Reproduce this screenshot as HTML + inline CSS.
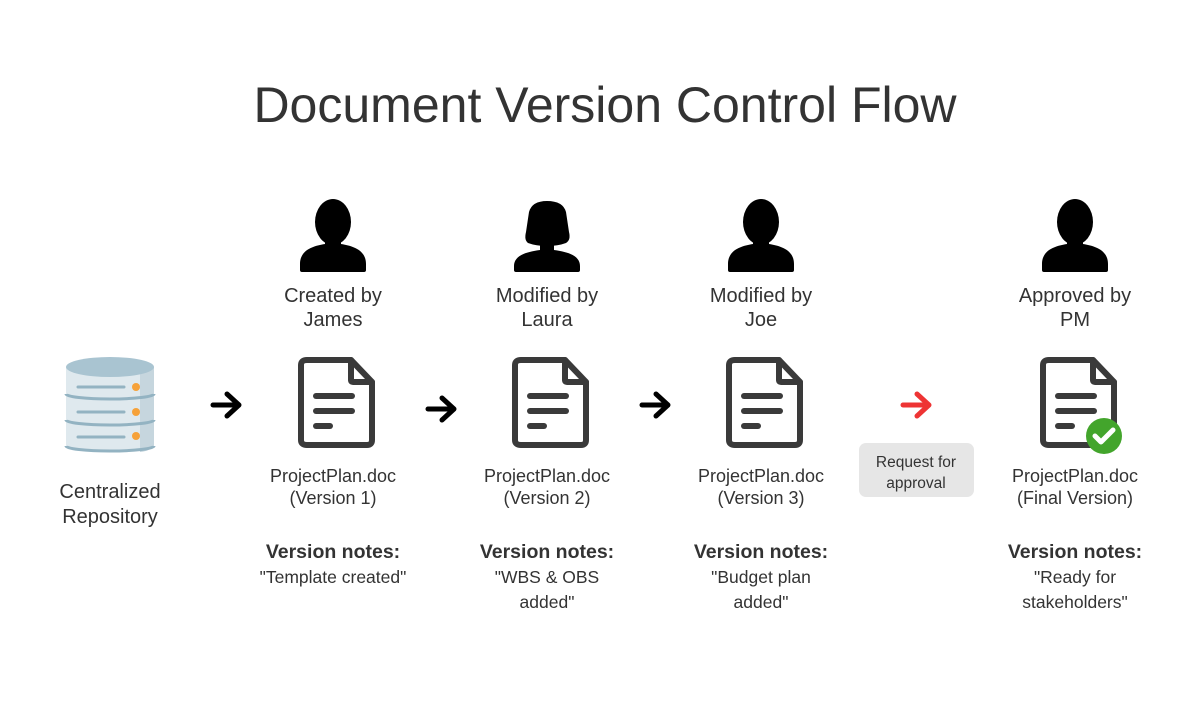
<!DOCTYPE html>
<html><head><meta charset="utf-8"><style>
html,body{margin:0;padding:0;background:#fff}
svg{display:block}
text{font-family:"Liberation Sans",sans-serif;fill:#333}
</style></head><body>
<svg width="1200" height="714" viewBox="0 0 1200 714" xmlns="http://www.w3.org/2000/svg">
<defs>
<g id="male">
<ellipse cx="0" cy="-50" rx="18" ry="23" fill="#000"/>
<path d="M-8,-32 L-8,-28 C-20,-26 -33,-22 -33,-8 L-33,-2 Q-33,0 -31,0 L31,0 Q33,0 33,-2 L33,-8 C33,-22 20,-26 8,-28 L8,-32 Z" fill="#000"/>
</g>
<g id="doc" fill="none" stroke="#3a3a3a" stroke-width="6" stroke-linejoin="round" stroke-linecap="round">
<path d="M-26,0 L18,0 L39,22 L39,80 Q39,85 34,85 L-26,85 Q-32,85 -32,80 L-32,5 Q-32,0 -26,0 Z"/>
<path d="M18,0 L18,20 Q18,22 20,22 L39,22"/>
<line x1="-17" y1="36" x2="19" y2="36"/>
<line x1="-17" y1="51" x2="19" y2="51"/>
<line x1="-17" y1="66" x2="-3" y2="66"/>
</g>
<g id="arr" fill="none" stroke-width="5" stroke-linecap="round" stroke-linejoin="round">
<line x1="-13" y1="0" x2="12" y2="0"/>
<polyline points="1,-11 13,0 1,11"/>
</g>
</defs>

<text x="605" y="122" text-anchor="middle" font-size="50" fill="#222">Document Version Control Flow</text>

<!-- Repository -->
<g>
<path d="M66,367 L66,446 A44,6 0 0 0 154,446 L154,367 Z" fill="#dfe9ee"/>
<path d="M140,372 L154,367 L154,446 Q150,451 140,452 Z" fill="#c6d6de"/>
<ellipse cx="110" cy="367" rx="44" ry="10" fill="#a9c4d1"/>
<path d="M66,394 A44,5 0 0 0 154,394" fill="none" stroke="#93b3c2" stroke-width="3"/>
<path d="M66,420 A44,5 0 0 0 154,420" fill="none" stroke="#93b3c2" stroke-width="3"/>
<path d="M66,446 A44,5 0 0 0 154,446" fill="none" stroke="#93b3c2" stroke-width="3"/>
<g stroke="#93b3c2" stroke-width="3" stroke-linecap="round">
<line x1="78" y1="387" x2="124" y2="387"/>
<line x1="78" y1="412" x2="124" y2="412"/>
<line x1="78" y1="437" x2="124" y2="437"/>
</g>
<g fill="#f6a23a"><circle cx="136" cy="387" r="4"/><circle cx="136" cy="412" r="4"/><circle cx="136" cy="436" r="4"/></g>
</g>
<text x="110" y="498" text-anchor="middle" font-size="20">Centralized</text>
<text x="110" y="523" text-anchor="middle" font-size="20">Repository</text>

<!-- arrows -->
<use href="#arr" x="226" y="405" stroke="#000"/>
<use href="#arr" x="441" y="409" stroke="#000"/>
<use href="#arr" x="655" y="405" stroke="#000"/>
<use href="#arr" x="916" y="405" stroke="#ee3434"/>

<rect x="859" y="443" width="115" height="54" rx="7" fill="#e6e6e6"/>
<text x="916" y="467" text-anchor="middle" font-size="15.5">Request for</text>
<text x="916" y="488" text-anchor="middle" font-size="15.5">approval</text>

<!-- persons -->
<use href="#male" x="333" y="272"/>
<g fill="#000">
<path d="M528,243 Q524,240 526,232 L529,212 Q532,201 547,201 Q563,201 566,212 L569,232 Q571,240 566,243 Q558,246 547,246 Q536,246 528,243 Z"/>
<path d="M540,243 L540,250 C525,252 514,256 514,266 L514,270 Q514,272 516,272 L578,272 Q580,272 580,270 L580,266 C580,256 569,252 554,250 L554,243 Z"/>
</g>
<use href="#male" x="761" y="272"/>
<use href="#male" x="1075" y="272"/>

<g font-size="20" text-anchor="middle">
<text x="333" y="302">Created by</text><text x="333" y="326">James</text>
<text x="547" y="302">Modified by</text><text x="547" y="326">Laura</text>
<text x="761" y="302">Modified by</text><text x="761" y="326">Joe</text>
<text x="1075" y="302">Approved by</text><text x="1075" y="326">PM</text>
</g>

<use href="#doc" x="333" y="360"/>
<use href="#doc" x="547" y="360"/>
<use href="#doc" x="761" y="360"/>
<use href="#doc" x="1075" y="360"/>
<circle cx="1104" cy="436" r="18" fill="#43a52c"/>
<polyline points="1095,436 1101,442 1113,430" fill="none" stroke="#fff" stroke-width="5" stroke-linecap="round" stroke-linejoin="round"/>

<g font-size="18" text-anchor="middle">
<text x="333" y="482">ProjectPlan.doc</text><text x="333" y="504">(Version 1)</text>
<text x="547" y="482">ProjectPlan.doc</text><text x="547" y="504">(Version 2)</text>
<text x="761" y="482">ProjectPlan.doc</text><text x="761" y="504">(Version 3)</text>
<text x="1075" y="482">ProjectPlan.doc</text><text x="1075" y="504">(Final Version)</text>
</g>
<g font-size="19.5" text-anchor="middle" font-weight="bold">
<text x="333" y="558" fill="#222">Version notes:</text>
<text x="547" y="558" fill="#222">Version notes:</text>
<text x="761" y="558" fill="#222">Version notes:</text>
<text x="1075" y="558" fill="#222">Version notes:</text>
</g>
<g font-size="17.5" text-anchor="middle">
<text x="333" y="583">"Template created"</text>
<text x="547" y="583">"WBS &amp; OBS</text><text x="547" y="608">added"</text>
<text x="761" y="583">"Budget plan</text><text x="761" y="608">added"</text>
<text x="1075" y="583">"Ready for</text><text x="1075" y="608">stakeholders"</text>
</g>
</svg>
</body></html>
